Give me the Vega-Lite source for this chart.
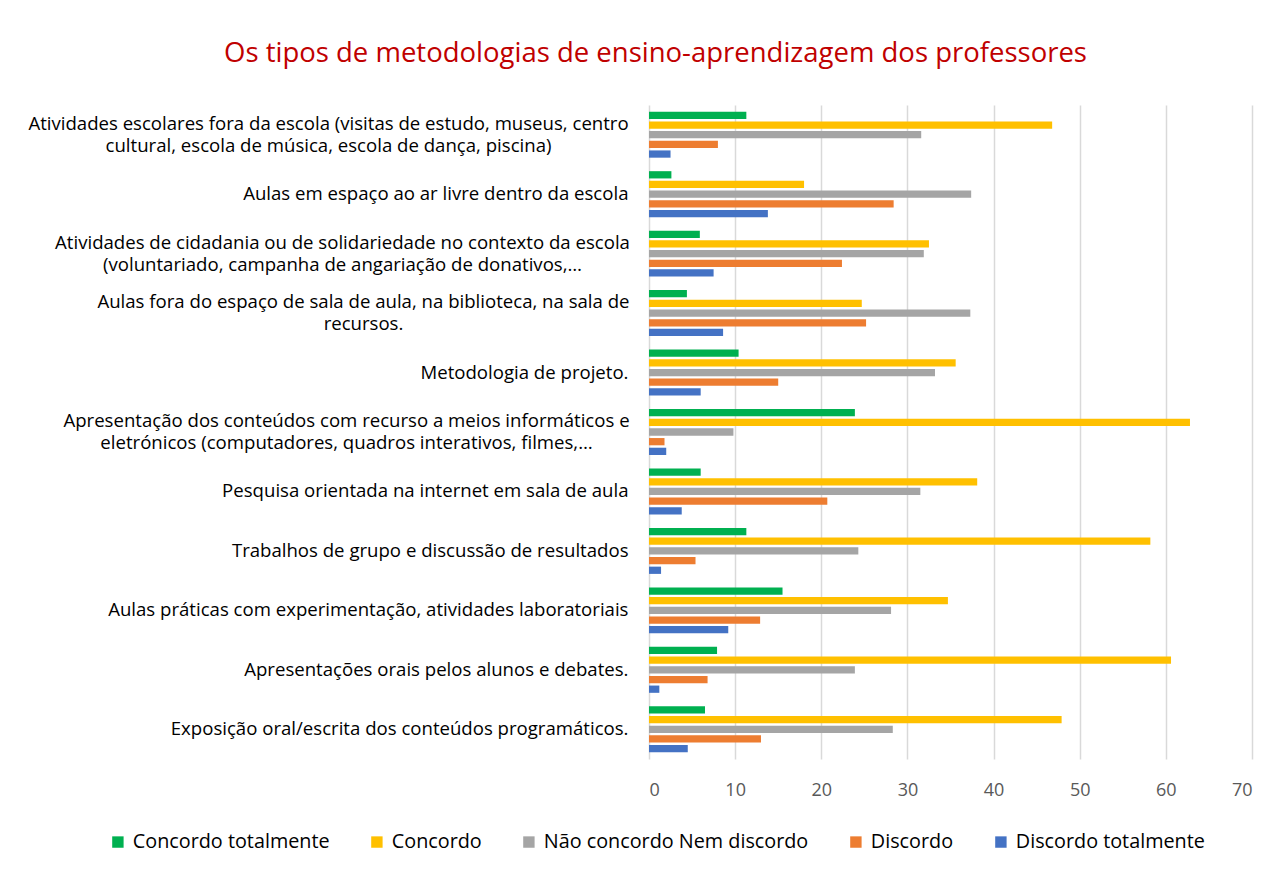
{
  "$schema": "https://vega.github.io/schema/vega-lite/v6.json",
  "width": 603,
  "height": 654,
  "autosize": {"type": "none"},
  "padding": {"left": 649, "top": 105, "right": 30, "bottom": 115},
  "background": "white",
  "title": {
    "text": "Os tipos de metodologias de ensino-aprendizagem dos professores",
    "color": "#C00000",
    "font": "Open Sans",
    "fontSize": 27.5,
    "fontWeight": "normal",
    "anchor": "middle",
    "dx": -295,
    "offset": 38
  },
  "data": {
    "values": [
      {"item": "Atividades escolares fora da escola (visitas de estudo, museus, centro|cultural, escola de música, escola de dança, piscina)", "series": "Concordo totalmente", "value": 11.3},
      {"item": "Atividades escolares fora da escola (visitas de estudo, museus, centro|cultural, escola de música, escola de dança, piscina)", "series": "Concordo", "value": 46.8},
      {"item": "Atividades escolares fora da escola (visitas de estudo, museus, centro|cultural, escola de música, escola de dança, piscina)", "series": "Não concordo Nem discordo", "value": 31.6},
      {"item": "Atividades escolares fora da escola (visitas de estudo, museus, centro|cultural, escola de música, escola de dança, piscina)", "series": "Discordo", "value": 8.0},
      {"item": "Atividades escolares fora da escola (visitas de estudo, museus, centro|cultural, escola de música, escola de dança, piscina)", "series": "Discordo totalmente", "value": 2.5},
      {"item": "Aulas em espaço ao ar livre dentro da escola", "series": "Concordo totalmente", "value": 2.6},
      {"item": "Aulas em espaço ao ar livre dentro da escola", "series": "Concordo", "value": 18.0},
      {"item": "Aulas em espaço ao ar livre dentro da escola", "series": "Não concordo Nem discordo", "value": 37.4},
      {"item": "Aulas em espaço ao ar livre dentro da escola", "series": "Discordo", "value": 28.4},
      {"item": "Aulas em espaço ao ar livre dentro da escola", "series": "Discordo totalmente", "value": 13.8},
      {"item": "Atividades de cidadania ou de solidariedade no contexto da escola|(voluntariado, campanha de angariação de donativos,…", "series": "Concordo totalmente", "value": 5.9},
      {"item": "Atividades de cidadania ou de solidariedade no contexto da escola|(voluntariado, campanha de angariação de donativos,…", "series": "Concordo", "value": 32.5},
      {"item": "Atividades de cidadania ou de solidariedade no contexto da escola|(voluntariado, campanha de angariação de donativos,…", "series": "Não concordo Nem discordo", "value": 31.9},
      {"item": "Atividades de cidadania ou de solidariedade no contexto da escola|(voluntariado, campanha de angariação de donativos,…", "series": "Discordo", "value": 22.4},
      {"item": "Atividades de cidadania ou de solidariedade no contexto da escola|(voluntariado, campanha de angariação de donativos,…", "series": "Discordo totalmente", "value": 7.5},
      {"item": "Aulas fora do espaço de sala de aula, na biblioteca, na sala de|recursos.", "series": "Concordo totalmente", "value": 4.4},
      {"item": "Aulas fora do espaço de sala de aula, na biblioteca, na sala de|recursos.", "series": "Concordo", "value": 24.7},
      {"item": "Aulas fora do espaço de sala de aula, na biblioteca, na sala de|recursos.", "series": "Não concordo Nem discordo", "value": 37.3},
      {"item": "Aulas fora do espaço de sala de aula, na biblioteca, na sala de|recursos.", "series": "Discordo", "value": 25.2},
      {"item": "Aulas fora do espaço de sala de aula, na biblioteca, na sala de|recursos.", "series": "Discordo totalmente", "value": 8.6},
      {"item": "Metodologia de projeto.", "series": "Concordo totalmente", "value": 10.4},
      {"item": "Metodologia de projeto.", "series": "Concordo", "value": 35.6},
      {"item": "Metodologia de projeto.", "series": "Não concordo Nem discordo", "value": 33.2},
      {"item": "Metodologia de projeto.", "series": "Discordo", "value": 15.0},
      {"item": "Metodologia de projeto.", "series": "Discordo totalmente", "value": 6.0},
      {"item": "Apresentação dos conteúdos com recurso a meios informáticos e|eletrónicos (computadores, quadros interativos, filmes,…", "series": "Concordo totalmente", "value": 23.9},
      {"item": "Apresentação dos conteúdos com recurso a meios informáticos e|eletrónicos (computadores, quadros interativos, filmes,…", "series": "Concordo", "value": 62.8},
      {"item": "Apresentação dos conteúdos com recurso a meios informáticos e|eletrónicos (computadores, quadros interativos, filmes,…", "series": "Não concordo Nem discordo", "value": 9.8},
      {"item": "Apresentação dos conteúdos com recurso a meios informáticos e|eletrónicos (computadores, quadros interativos, filmes,…", "series": "Discordo", "value": 1.8},
      {"item": "Apresentação dos conteúdos com recurso a meios informáticos e|eletrónicos (computadores, quadros interativos, filmes,…", "series": "Discordo totalmente", "value": 2.0},
      {"item": "Pesquisa orientada na internet em sala de aula", "series": "Concordo totalmente", "value": 6.0},
      {"item": "Pesquisa orientada na internet em sala de aula", "series": "Concordo", "value": 38.1},
      {"item": "Pesquisa orientada na internet em sala de aula", "series": "Não concordo Nem discordo", "value": 31.5},
      {"item": "Pesquisa orientada na internet em sala de aula", "series": "Discordo", "value": 20.7},
      {"item": "Pesquisa orientada na internet em sala de aula", "series": "Discordo totalmente", "value": 3.8},
      {"item": "Trabalhos de grupo e discussão de resultados", "series": "Concordo totalmente", "value": 11.3},
      {"item": "Trabalhos de grupo e discussão de resultados", "series": "Concordo", "value": 58.2},
      {"item": "Trabalhos de grupo e discussão de resultados", "series": "Não concordo Nem discordo", "value": 24.3},
      {"item": "Trabalhos de grupo e discussão de resultados", "series": "Discordo", "value": 5.4},
      {"item": "Trabalhos de grupo e discussão de resultados", "series": "Discordo totalmente", "value": 1.4},
      {"item": "Aulas práticas com experimentação, atividades laboratoriais", "series": "Concordo totalmente", "value": 15.5},
      {"item": "Aulas práticas com experimentação, atividades laboratoriais", "series": "Concordo", "value": 34.7},
      {"item": "Aulas práticas com experimentação, atividades laboratoriais", "series": "Não concordo Nem discordo", "value": 28.1},
      {"item": "Aulas práticas com experimentação, atividades laboratoriais", "series": "Discordo", "value": 12.9},
      {"item": "Aulas práticas com experimentação, atividades laboratoriais", "series": "Discordo totalmente", "value": 9.2},
      {"item": "Apresentações orais pelos alunos e debates.", "series": "Concordo totalmente", "value": 7.9},
      {"item": "Apresentações orais pelos alunos e debates.", "series": "Concordo", "value": 60.6},
      {"item": "Apresentações orais pelos alunos e debates.", "series": "Não concordo Nem discordo", "value": 23.9},
      {"item": "Apresentações orais pelos alunos e debates.", "series": "Discordo", "value": 6.8},
      {"item": "Apresentações orais pelos alunos e debates.", "series": "Discordo totalmente", "value": 1.2},
      {"item": "Exposição oral/escrita dos conteúdos programáticos.", "series": "Concordo totalmente", "value": 6.5},
      {"item": "Exposição oral/escrita dos conteúdos programáticos.", "series": "Concordo", "value": 47.9},
      {"item": "Exposição oral/escrita dos conteúdos programáticos.", "series": "Não concordo Nem discordo", "value": 28.3},
      {"item": "Exposição oral/escrita dos conteúdos programáticos.", "series": "Discordo", "value": 13.0},
      {"item": "Exposição oral/escrita dos conteúdos programáticos.", "series": "Discordo totalmente", "value": 4.5}
    ]
  },
  "mark": {"type": "bar"},
  "encoding": {
    "y": {
      "field": "item",
      "type": "nominal",
      "sort": null,
      "title": null,
      "scale": {"paddingInner": 0.227, "paddingOuter": 0.113},
      "axis": {
        "labelExpr": "split(datum.label, '|')",
        "labelAlign": {
          "condition": {"test": "indexof(datum.value, '|') >= 0", "value": "center"},
          "value": "right"
        },
        "labelBaseline": "middle",
        "labelPadding": {
          "condition": [
            {"test": "indexof(datum.value, 'visitas') >= 0", "value": 321},
            {"test": "indexof(datum.value, 'cidadania') >= 0", "value": 307},
            {"test": "indexof(datum.value, 'biblioteca') >= 0", "value": 286},
            {"test": "indexof(datum.value, 'informáticos') >= 0", "value": 303}
          ],
          "value": 21
        },
        "labelOffset": {
          "condition": {"test": "indexof(datum.value, '|') >= 0", "value": -11},
          "value": 0
        },
        "labelFont": "Open Sans",
        "labelFontSize": 18.6,
        "labelColor": "#000000",
        "labelLineHeight": 22,
        "labelLimit": 0,
        "domain": false,
        "ticks": false,
        "grid": false
      }
    },
    "yOffset": {
      "field": "series",
      "type": "nominal",
      "sort": ["Concordo totalmente", "Concordo", "Não concordo Nem discordo", "Discordo", "Discordo totalmente"],
      "scale": {"paddingInner": 0.25, "paddingOuter": 0}
    },
    "x": {
      "field": "value",
      "type": "quantitative",
      "title": null,
      "scale": {"domain": [0, 70], "nice": false},
      "axis": {
        "values": [0, 10, 20, 30, 40, 50, 60, 70],
        "labelFont": "Open Sans",
        "labelFontSize": 18,
        "labelColor": "#595959",
        "labelPadding": 22,
        "domain": false,
        "ticks": false,
        "grid": true,
        "gridColor": "#D9D9D9",
        "gridWidth": 1.5
      }
    },
    "color": {
      "field": "series",
      "type": "nominal",
      "sort": ["Concordo totalmente", "Concordo", "Não concordo Nem discordo", "Discordo", "Discordo totalmente"],
      "scale": {
        "domain": ["Concordo totalmente", "Concordo", "Não concordo Nem discordo", "Discordo", "Discordo totalmente"],
        "range": ["#00B050", "#FFC000", "#A5A5A5", "#ED7D31", "#4472C4"]
      },
      "legend": {
        "title": null,
        "orient": "none",
        "direction": "horizontal",
        "legendX": -541,
        "legendY": 727,
        "symbolType": "square",
        "symbolSize": 130,
        "symbolStrokeWidth": 0,
        "labelFont": "Open Sans",
        "labelFontSize": 19.8,
        "labelColor": "#000000",
        "labelOffset": 5,
        "columnPadding": 37,
        "labelLimit": 0
      }
    }
  },
  "config": {
    "view": {"stroke": null}
  }
}
